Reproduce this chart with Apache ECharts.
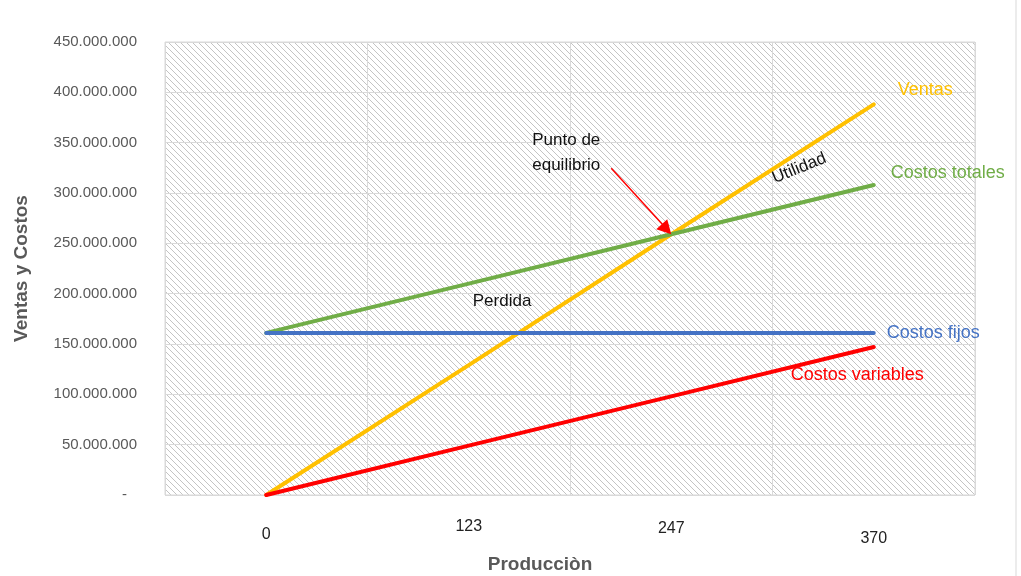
<!DOCTYPE html>
<html><head><meta charset="utf-8">
<script src="https://cdn.jsdelivr.net/npm/echarts@6/dist/echarts.min.js"></script>
<style>html,body{margin:0;padding:0;background:#fff}#c{width:1021px;height:576px}</style>
</head><body><div id="c"></div>
<script>
const categories = ['0', '123', '247', '370'];
const ventas = [0, 129e6, 259e6, 388e6];
const costosTotales = [161e6, 210e6, 259e6, 308e6];
const costosFijos = [161e6, 161e6, 161e6, 161e6];
const costosVariables = [0, 49e6, 98e6, 147e6];
const yTicks = { min: 0, max: 450e6, interval: 50e6 };

const FONT = '"Liberation Sans", Arial, sans-serif';

function makeHatch() {
  const s = 6;
  const cv = document.createElement('canvas');
  cv.width = s; cv.height = s;
  const g = cv.getContext('2d');
  g.fillStyle = '#ffffff'; g.fillRect(0, 0, s, s);
  g.strokeStyle = '#c4c4c4'; g.lineWidth = 1;
  g.beginPath();
  g.moveTo(-1, -1); g.lineTo(s + 1, s + 1);
  g.moveTo(-1, s - 1); g.lineTo(1, s + 1);
  g.moveTo(s - 1, -1); g.lineTo(s + 1, 1);
  g.stroke();
  return cv;
}

function fmt(v) {
  if (v === 0) return '{d|-}';
  return String(Math.round(v)).replace(/\B(?=(\d{3})+(?!\d))/g, '.');
}

const chart = echarts.init(document.getElementById('c'));
const lineW = 4;
function lineSeries(name, data, color, off) {
  return {
    name, type: 'line', data, symbol: 'none',
    lineStyle: { color, width: lineW, cap: 'round' },
    itemStyle: { color },
    endLabel: { show: true, formatter: name, color, fontSize: 18, fontFamily: FONT, offset: off },
    z: 3
  };
}
chart.setOption({
  animation: false,
  grid: { left: 165, right: 46, top: 42, bottom: 81, show: true, outerBoundsMode: 'none', containLabel: false,
    backgroundColor: { image: makeHatch(), repeat: 'repeat' },
    borderColor: '#d9d9d9', borderWidth: 1 },
  xAxis: {
    type: 'category', data: categories, boundaryGap: true,
    axisLine: { show: false }, axisTick: { show: false },
    splitLine: { show: true, interval: 0, lineStyle: { color: '#d9d9d9' } },
    axisLabel: {
      fontSize: 16, fontFamily: FONT, color: '#222', margin: 24,
      formatter: (v, i) => '{p' + i + '|' + v + '}',
      rich: {
        p0: { fontSize: 16, fontFamily: FONT, color: '#222', padding: [8, 0, 0, 0] },
        p1: { fontSize: 16, fontFamily: FONT, color: '#222', padding: [0, 0, 8, 0] },
        p2: { fontSize: 16, fontFamily: FONT, color: '#222', padding: [2, 0, 0, 0] },
        p3: { fontSize: 16, fontFamily: FONT, color: '#222', padding: [12, 0, 0, 0] }
      }
    },
    name: 'Producciòn', nameLocation: 'middle', nameGap: 60,
    nameTextStyle: { fontSize: 19, fontWeight: 'bold', color: '#595959', fontFamily: FONT, padding: [0, 60, 0, 0] }
  },
  yAxis: {
    type: 'value', min: yTicks.min, max: yTicks.max, interval: yTicks.interval,
    axisLine: { show: false }, axisTick: { show: false },
    splitLine: { lineStyle: { color: '#d9d9d9' } },
    axisLabel: { fontSize: 15, fontFamily: FONT, color: '#595959', margin: 28, formatter: fmt,
      rich: { d: { fontSize: 15, color: '#595959', padding: [0, 10, 0, 0] } } },
    name: 'Ventas y Costos', nameLocation: 'middle', nameGap: 134,
    nameTextStyle: { fontSize: 19, fontWeight: 'bold', color: '#595959', fontFamily: FONT }
  },
  series: [
    lineSeries('Ventas', ventas, '#FFC000', [16, -14]),
    lineSeries('Costos totales', costosTotales, '#70AD47', [9, -12]),
    lineSeries('Costos fijos', costosFijos, '#4472C4', [5, 0]),
    lineSeries('Costos variables', costosVariables, '#FF0000', [-91, 28])
  ]
});

// annotations anchored to the break-even point
const be = chart.convertToPixel({ gridIndex: 0 }, ['247', 259e6]);
const pf = chart.convertToPixel({ gridIndex: 0 }, ['123', 161e6]);
chart.setOption({
  graphic: [
    { type: 'line', shape: { x1: be[0] - 60, y1: be[1] - 66, x2: be[0] - 8, y2: be[1] - 9 },
      style: { stroke: '#FF0000', lineWidth: 1.5 }, z: 10 },
    { type: 'polygon', shape: { points: [[be[0], be[1]], [be[0] - 15, be[1] - 5], [be[0] - 4, be[1] - 15]] },
      style: { fill: '#FF0000' }, z: 10 },
    { type: 'text', x: be[0] - 139, y: be[1] - 106, z: 10,
      style: { text: 'Punto de\nequilibrio', font: '17px ' + FONT, fill: '#111', lineHeight: 25 } },
    { type: 'text', x: pf[0] + 4, y: pf[1] - 40, z: 10,
      style: { text: 'Perdida', font: '17px ' + FONT, fill: '#111' } },
    { type: 'text', x: be[0] + 128, y: be[1] - 66, rotation: 22 * Math.PI / 180, z: 10,
      style: { text: 'Utilidad', font: '17px ' + FONT, fill: '#111', align: 'center', verticalAlign: 'middle' } },
    { type: 'line', shape: { x1: 1016, y1: 0, x2: 1016, y2: 576 }, style: { stroke: '#d9d9d9', lineWidth: 1 } }
  ]
});
</script></body></html>
